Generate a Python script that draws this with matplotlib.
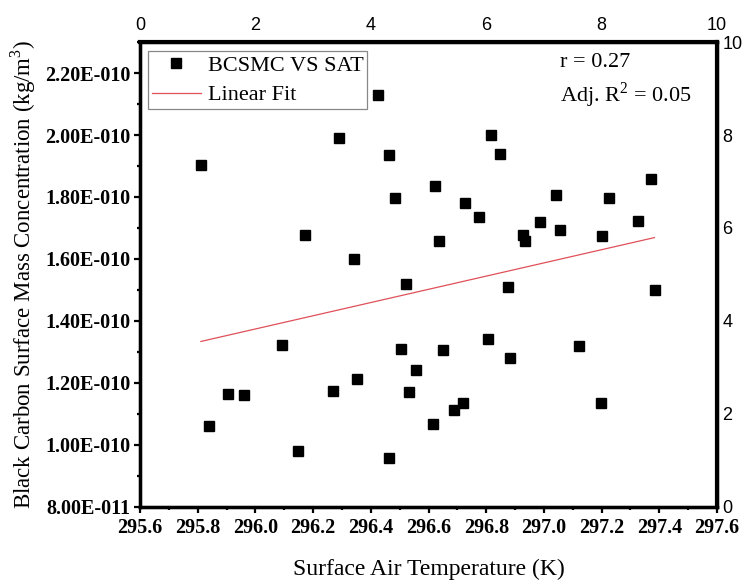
import numpy as np
import matplotlib
matplotlib.use("Agg")
import matplotlib.pyplot as plt
from matplotlib.ticker import FuncFormatter, MultipleLocator

# surface air temperature (K) vs black carbon surface mass concentration (kg/m3)
sat = [295.810, 295.840, 295.906, 295.959, 296.092, 296.149, 296.172, 296.268,
       296.291, 296.341, 296.352, 296.424, 296.464, 296.464, 296.484, 296.506,
       296.522, 296.531, 296.558, 296.615, 296.623, 296.637, 296.649, 296.689,
       296.721, 296.728, 296.774, 296.805, 296.817, 296.847, 296.875, 296.884,
       296.929, 296.933, 296.986, 297.042, 297.055, 297.122, 297.200, 297.197,
       297.227, 297.325, 297.371, 297.385]
bcsmc = [1.902e-10, 1.060e-10, 1.165e-10, 1.161e-10, 1.321e-10, 0.982e-10, 1.676e-10, 1.174e-10,
         1.990e-10, 1.601e-10, 1.212e-10, 2.129e-10, 1.936e-10, 0.958e-10, 1.797e-10, 1.310e-10,
         1.518e-10, 1.171e-10, 1.241e-10, 1.068e-10, 1.836e-10, 1.658e-10, 1.308e-10, 1.114e-10,
         1.136e-10, 1.782e-10, 1.737e-10, 1.343e-10, 1.999e-10, 1.938e-10, 1.511e-10, 1.279e-10,
         1.679e-10, 1.658e-10, 1.720e-10, 1.806e-10, 1.693e-10, 1.318e-10, 1.675e-10, 1.134e-10,
         1.797e-10, 1.721e-10, 1.859e-10, 1.501e-10]

# linear fit end points
fit_x = [295.811, 297.383]
fit_y = [1.334e-10, 1.669e-10]

r_text = "r = 0.27"
r2_text = "Adj. R$^2$ = 0.05"

serif = "Liberation Serif"
sans = "Liberation Sans"
plt.rcParams["font.family"] = serif
plt.rcParams["mathtext.fontset"] = "custom"
plt.rcParams["mathtext.rm"] = serif

fig = plt.figure(figsize=(7.5, 5.81), dpi=100)
ax = fig.add_axes([0.1867, 0.1274, 0.7693, 0.8003])

ax.plot(sat, bcsmc, "s", color="black", markersize=7.8, label="BCSMC VS SAT", zorder=3)
ax.plot(fit_x, fit_y, "-", color="#e0505a", linewidth=0.9, label="Linear Fit", zorder=2)

ax.set_xlim(295.6, 297.6)
ax.set_ylim(8e-11, 2.3e-10)
ax.xaxis.set_major_locator(MultipleLocator(0.2))
ax.xaxis.set_minor_locator(MultipleLocator(0.1))
ax.yaxis.set_major_locator(MultipleLocator(2e-11))
ax.yaxis.set_minor_locator(MultipleLocator(1e-11))


def sci_fmt(v, pos):
    if v == 0:
        return "0"
    e = int(np.floor(np.log10(abs(v)) + 1e-9))
    m = v / 10 ** e
    sign = "-" if e < 0 else "+"
    return f"{m:.2f}E{sign}{abs(e):03d}"


ax.yaxis.set_major_formatter(FuncFormatter(sci_fmt))
ax.xaxis.set_major_formatter(FuncFormatter(lambda v, p: f"{v:.1f}"))

ax.tick_params(which="major", direction="out", length=4, width=1.6, labelsize=14.5, pad=3)
ax.tick_params(axis="x", which="major", pad=4)
ax.tick_params(which="minor", direction="out", length=2.5, width=1.6)
for lab in ax.get_xticklabels() + ax.get_yticklabels():
    lab.set_fontweight("bold")
for s in ax.spines.values():
    s.set_linewidth(2.3)

ax.set_xlabel("Surface Air Temperature (K)", fontsize=17, labelpad=15)
ax.set_ylabel("Black Carbon Surface Mass Concentration (kg/m$^3$)", fontsize=16.5, labelpad=5)

leg = ax.legend(loc="upper left", bbox_to_anchor=(0.0139, 0.9806), borderaxespad=0,
                fontsize=16, frameon=True, fancybox=False, edgecolor="#888888",
                framealpha=1, borderpad=0.18, labelspacing=0.42, handlelength=2.2,
                handletextpad=0.3)
leg.get_frame().set_linewidth(0.9)

ax.text(0.728, 0.957, r_text, transform=ax.transAxes, fontsize=16, va="center", ha="left")
ax.text(0.728, 0.886, r2_text, transform=ax.transAxes, fontsize=16, va="center", ha="left")

# extra scales on top and right (0-10), labels only
ax_top = ax.twiny()
ax_top.set_xlim(0, 10)
ax_top.set_xticks(np.arange(0, 11, 2))
ax_top.tick_params(axis="x", length=0, pad=6, labelsize=13)
for lab in ax_top.get_xticklabels():
    lab.set_family(sans)

ax_right = ax.twinx()
ax_right.set_ylim(0, 10)
ax_right.set_yticks(np.arange(0, 11, 2))
ax_right.tick_params(axis="y", length=0, pad=4, labelsize=13)
for lab in ax_right.get_yticklabels():
    lab.set_family(sans)

for a in (ax_top, ax_right):
    for s in a.spines.values():
        s.set_linewidth(2.3)
ax_top.spines["top"].set_linewidth(3)
ax_right.spines["right"].set_linewidth(3)

fig.savefig("out.png", dpi=100)
